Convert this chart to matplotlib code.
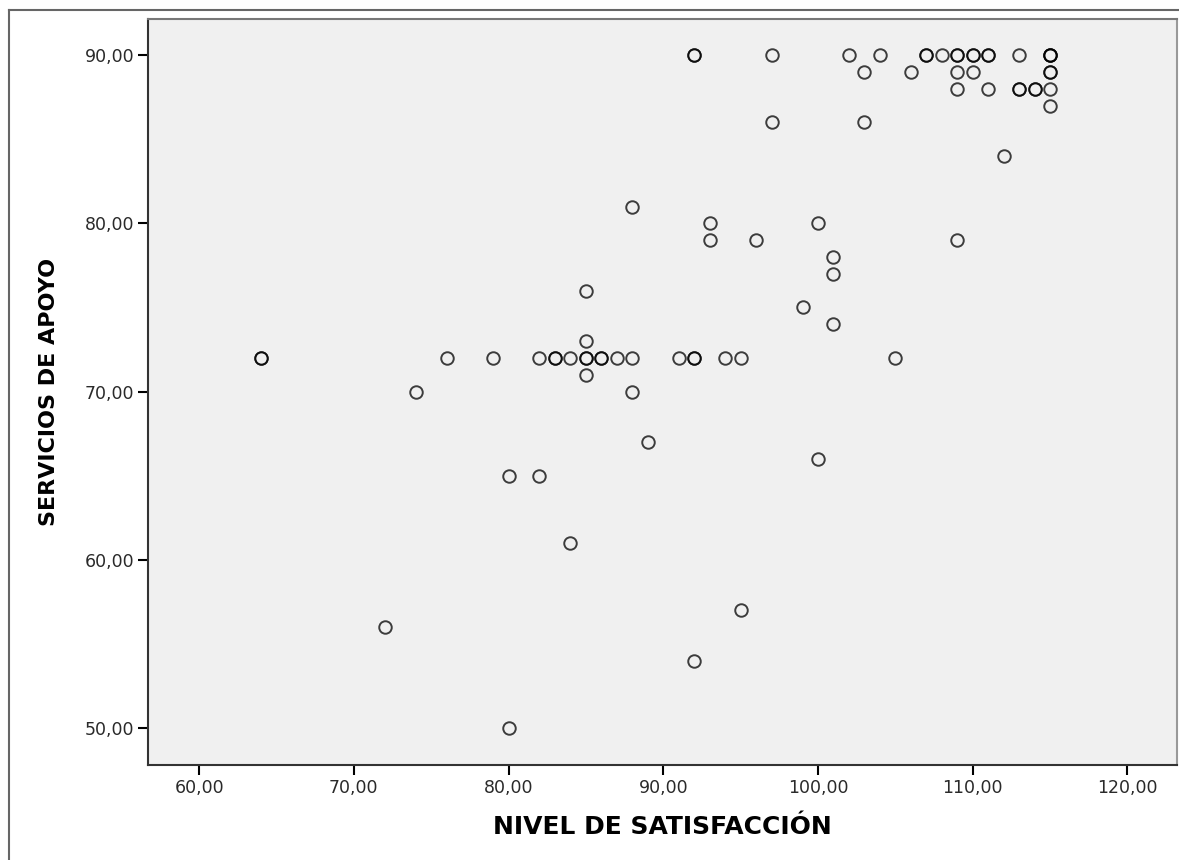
import numpy as np
import matplotlib
matplotlib.use('Agg')
import matplotlib.pyplot as plt
from matplotlib.ticker import FuncFormatter
from matplotlib.lines import Line2D

# datos (puntos repetidos = círculos más oscuros)
nivel_satisfaccion = [
    64, 64, 72, 74, 76, 79, 80, 80, 82, 82, 83, 83, 84, 84,
    85, 85, 85, 85, 85, 86, 86, 87, 88, 88, 88, 89, 91, 92, 92,
    92, 92, 92, 93, 93, 94, 95, 95, 96, 97, 97, 99, 100, 100,
    101, 101, 101, 102, 103, 103, 104, 105, 106, 107, 107, 108,
    109, 109, 109, 109, 109, 110, 110, 110, 111, 111, 111, 112,
    113, 113, 113, 114, 114, 115, 115, 115, 115, 115, 115, 115,
]
servicios_apoyo = [
    72, 72, 56, 70, 72, 72, 65, 50, 72, 65, 72, 72, 72, 61,
    76, 73, 72, 72, 71, 72, 72, 72, 72, 81, 70, 67, 72, 72, 72,
    90, 90, 54, 80, 79, 72, 72, 57, 79, 90, 86, 75, 80, 66,
    78, 77, 74, 90, 89, 86, 90, 72, 89, 90, 90, 90,
    90, 90, 89, 88, 79, 90, 90, 89, 90, 90, 88, 84,
    90, 88, 88, 88, 88, 90, 90, 90, 89, 89, 88, 87,
]

x_ticks = [60, 70, 80, 90, 100, 110, 120]
y_ticks = [50, 60, 70, 80, 90]

plt.rcParams['font.family'] = ['DejaVu Sans']

fig = plt.figure(figsize=(11.79, 8.60), dpi=100)
ax = fig.add_axes([148 / 1179, 1 - 765 / 860, (1177 - 148) / 1179, (765 - 19) / 860])
ax.set_facecolor('#f0f0f0')

ax.plot(nivel_satisfaccion, servicios_apoyo, linestyle='none', marker='o',
        markersize=9, markerfacecolor='none', markeredgecolor='black',
        markeredgewidth=1.4, alpha=0.75)

ax.set_xlim(56.7, 123.2)
ax.set_ylim(47.8, 92.15)
ax.set_xticks(x_ticks)
ax.set_yticks(y_ticks)
fmt = FuncFormatter(lambda v, p: ('%.2f' % v).replace('.', ','))
ax.xaxis.set_major_formatter(fmt)
ax.yaxis.set_major_formatter(fmt)
ax.tick_params(axis='both', direction='out', length=7, width=1.5,
               labelsize=12.5, labelcolor='#2a2a2a', pad=3)

for s in ax.spines.values():
    s.set_linewidth(1.5)
    s.set_color('#333333')
ax.spines['top'].set_color('#777777')
ax.spines['right'].set_color('#999999')

ax.set_xlabel('NIVEL DE SATISFACCIÓN', fontsize=18, fontweight='bold', labelpad=13)
ax.set_ylabel('SERVICIOS DE APOYO', fontsize=16, fontweight='bold', labelpad=18)

# marco exterior
fig.add_artist(Line2D([9 / 1179, 9 / 1179], [0, 1 - 10 / 860], color='#666666', lw=1.5))
fig.add_artist(Line2D([9 / 1179, 1], [1 - 10 / 860, 1 - 10 / 860], color='#666666', lw=1.5))

fig.savefig('out.png', dpi=100)
